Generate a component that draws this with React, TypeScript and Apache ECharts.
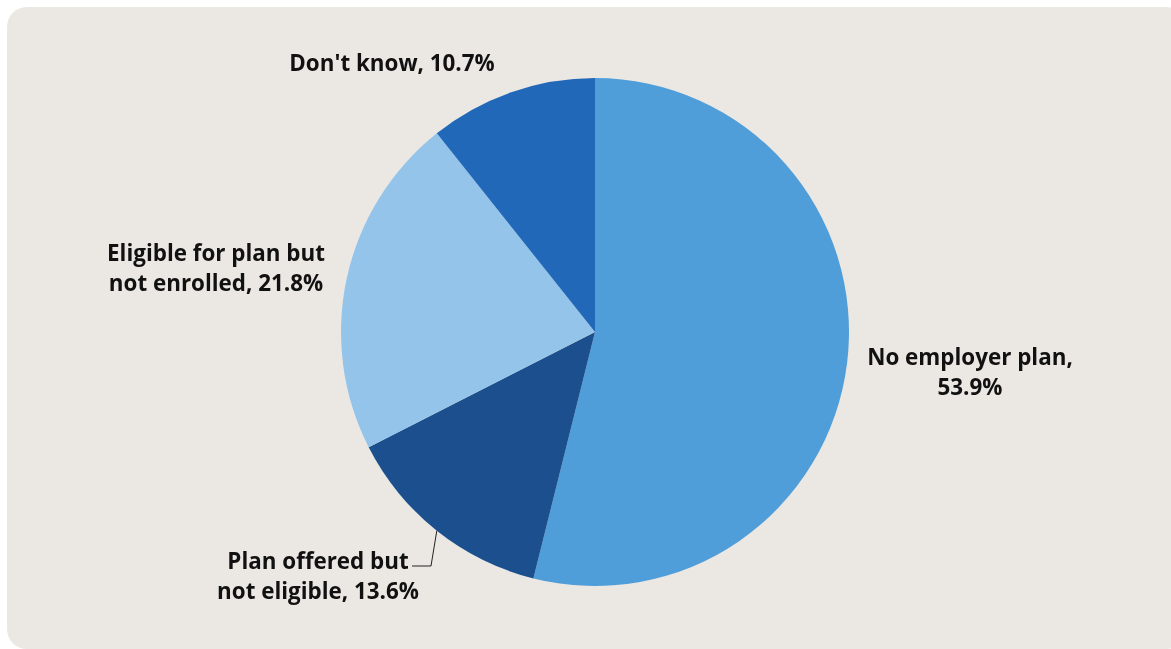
import React, { useEffect, useRef } from "react";
import * as echarts from "echarts";

const categories = [
  "No employer plan",
  "Plan offered but not eligible",
  "Eligible for plan but not enrolled",
  "Don't know",
];
const values = [53.9, 13.6, 21.8, 10.7];
const labelTexts = [
  "No employer plan,\n53.9%",
  "Plan offered but\nnot eligible, 13.6%",
  "Eligible for plan but\nnot enrolled, 21.8%",
  "Don't know, 10.7%",
];
const colors = ["#4F9DD9", "#1B4F8D", "#94C4EA", "#2168B9"];

// label anchor positions (px) for each slice label
const labelX = [970, 318, 216, 392];
const labelY = [371, 575, 267, 62];

export default function App() {
  const ref = useRef<HTMLDivElement>(null);
  useEffect(() => {
    if (!ref.current) return;
    const chart = echarts.init(ref.current, null, { renderer: "svg" });
    chart.setOption({
      animation: false,
      graphic: [
        {
          type: "rect",
          shape: { x: 7, y: 7, width: 1180, height: 642, r: 20 },
          style: { fill: "#EBE8E3" },
          z: -10,
        },
      ],
      series: [
        {
          type: "pie",
          center: [595, 332],
          radius: [0, 254],
          startAngle: 90,
          clockwise: true,
          data: categories.map((c, i) => ({
            name: c,
            value: values[i],
            itemStyle: { color: colors[i] },
            label: { formatter: labelTexts[i] },
            labelLine: { show: i === 1 },
          })),
          label: {
            show: true,
            position: "outside",
            color: "#111",
            fontFamily: "Open Sans",
            fontWeight: "bold",
            fontSize: 22.4,
            lineHeight: 30,
            align: "center",
          },
          labelLine: {
            show: false,
            length: 20,
            length2: 15,
            lineStyle: { color: "#222", width: 1 },
          },
          labelLayout: (params: any) => {
            const i = params.dataIndex;
            const out: any = {
              x: labelX[i],
              y: labelY[i],
              align: "center",
              verticalAlign: "middle",
            };
            if (i === 1 && params.labelLinePoints) {
              const p0 = params.labelLinePoints[0];
              out.labelLinePoints = [p0, [431, 566], [412, 566]];
            }
            return out;
          },
        },
      ],
    });
    return () => chart.dispose();
  }, []);
  return (
    <div
      ref={ref}
      style={{ position: "fixed", left: 0, top: 0, width: 1171, height: 649 }}
    />
  );
}
